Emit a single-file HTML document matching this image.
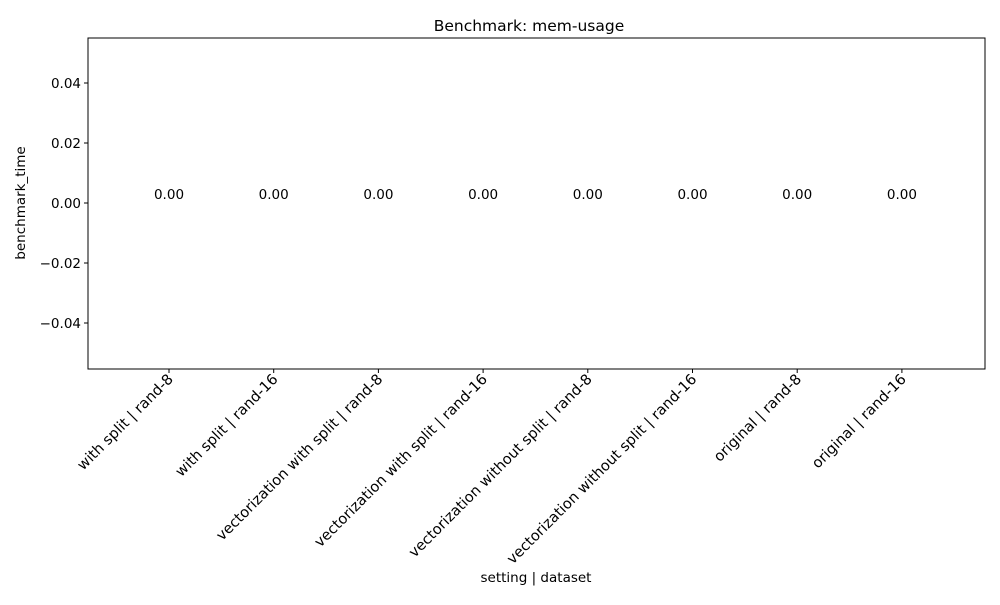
<!DOCTYPE html>
<html><head><meta charset="utf-8"><style>
body{margin:0;background:#fff}
svg text{font-family:"DejaVu Sans","Liberation Sans",sans-serif;fill:#000}
</style></head><body>
<svg id="chart" width="1000" height="600">
<rect x="0" y="0" width="1000" height="600" fill="#fff"/>
<text x="529" y="31" font-size="15.5" text-anchor="middle">Benchmark: mem-usage</text>
<g id="plot"></g>
<rect x="88" y="38" width="897" height="331" fill="none" stroke="#000" stroke-width="1"/>
<text x="536" y="582" font-size="13.5" text-anchor="middle">setting | dataset</text>
<text transform="translate(25,203) rotate(-90)" font-size="13.5" text-anchor="middle">benchmark_time</text>
</svg>
<script>
const categories=["with split | rand-8","with split | rand-16","vectorization with split | rand-8","vectorization with split | rand-16","vectorization without split | rand-8","vectorization without split | rand-16","original | rand-8","original | rand-16"];
const values=[0,0,0,0,0,0,0,0];
const yTicks=[-0.04,-0.02,0,0.02,0.04];
const yTickLabels=["\u22120.04","\u22120.02","0.00","0.02","0.04"];
const NS="http://www.w3.org/2000/svg";
const g=document.getElementById('plot');
const y=v=>203-v*3000;
const x=i=>169+i*104.7;
function mk(t,a){const e=document.createElementNS(NS,t);for(const k in a)e.setAttribute(k,a[k]);g.appendChild(e);return e;}
yTicks.forEach((v,i)=>{
 const t=mk('line',{x1:84,x2:88,y1:y(v),y2:y(v),stroke:'#000'});
 
 
 const l=mk('text',{x:81,y:y(v)+5,'font-size':13.5,'text-anchor':'end'});l.textContent=yTickLabels[i];
 
 
});
categories.forEach((c,i)=>{
 const cx=x(i);
 const b=mk('rect',{x:cx-37,y:Math.min(y(values[i]),y(0)),width:74,height:Math.abs(y(values[i])-y(0)),fill:'#1f77b4'});
 
 
 const v=mk('text',{x:cx,y:y(values[i])-4,'font-size':13.5,'text-anchor':'middle'});v.textContent=values[i].toFixed(2);
 
 
 const t=mk('line',{x1:cx,x2:cx,y1:369,y2:373,stroke:'#000'});
 
 
 const l=mk('text',{transform:`translate(${cx+5},${380}) rotate(-45)`,'font-size':14.6,'text-anchor':'end'});l.textContent=c;
 
 
});
</script>
</body></html>
